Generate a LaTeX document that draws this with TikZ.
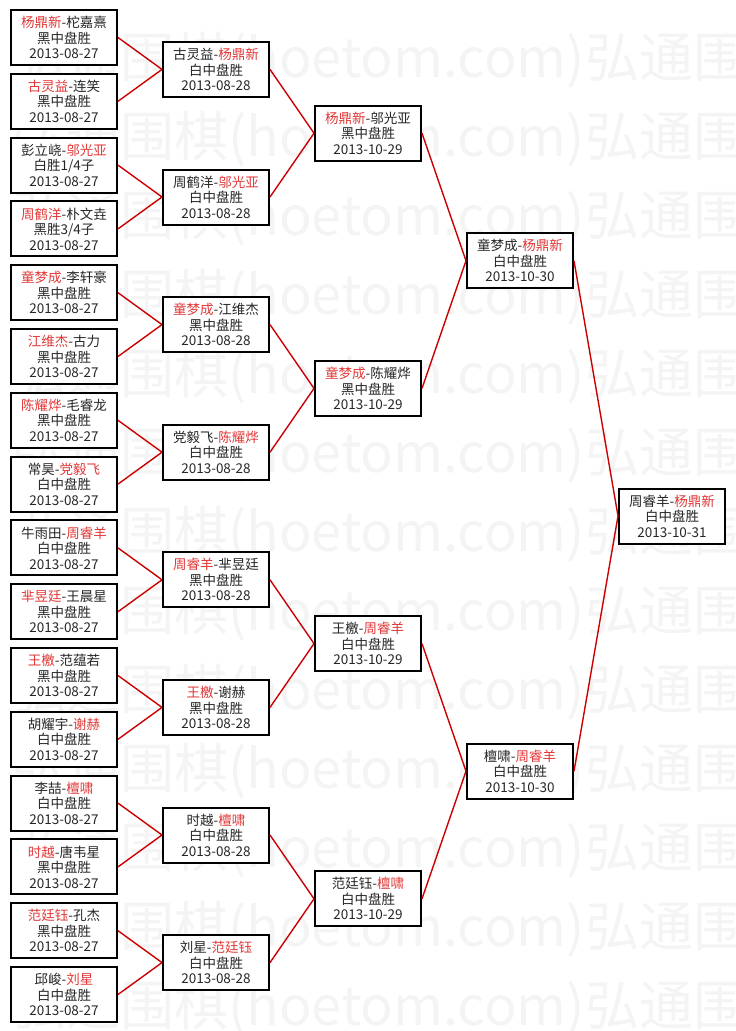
\documentclass[tikz,border=0pt]{standalone}
\usepackage{fontspec}
\setmainfont{Noto Sans CJK SC}
\usepackage{xcolor}
\usepackage{tikz}
\usetikzlibrary{positioning}

\definecolor{winred}{RGB}{226,56,56}
\definecolor{linkred}{RGB}{204,0,0}
\definecolor{inkgray}{RGB}{38,38,38}
\definecolor{markgray}{RGB}{244,244,244}
\newcommand{\win}[1]{\textcolor{winred}{#1}}

\begin{document}
\begin{tikzpicture}[x=1pt,y=-1pt,
    game/.style={draw=black,line width=2pt,fill=white,text=inkgray,align=center,
        minimum width=106pt,minimum height=55pt,inner sep=0pt,
        font=\fontsize{13.5}{15.5}\selectfont},
    link/.style={draw=linkred,line width=1.4pt},
    watermark/.style={text=markgray,anchor=west,inner sep=0pt,font=\fontsize{54}{54}\selectfont}]
    \useasboundingbox (0,0) rectangle (736,1031);

    \begin{scope}
    \clip (0,0) rectangle (736,1031);
    \foreach \y in {60,139,218,297,376,455,534,613,692,771,850,929,1008}
        \node[watermark] at (12,\y) {弘通围棋(hoetom.com)弘通围棋(hoetom.com)};
    \end{scope}

    \node[game] (a1) at (64,37.5) {\win{杨鼎新}-柁嘉熹\\黑中盘胜\\2013-08-27};
    \node[game] (a2) at (64,101.3) {\win{古灵益}-连笑\\黑中盘胜\\2013-08-27};
    \node[game] (a3) at (64,165.1) {彭立峣-\win{邬光亚}\\白胜1/4子\\2013-08-27};
    \node[game] (a4) at (64,228.9) {\win{周鹤洋}-朴文垚\\黑胜3/4子\\2013-08-27};
    \node[game] (a5) at (64,292.7) {\win{童梦成}-李轩豪\\黑中盘胜\\2013-08-27};
    \node[game] (a6) at (64,356.5) {\win{江维杰}-古力\\黑中盘胜\\2013-08-27};
    \node[game] (a7) at (64,420.3) {\win{陈耀烨}-毛睿龙\\黑中盘胜\\2013-08-27};
    \node[game] (a8) at (64,484.1) {常昊-\win{党毅飞}\\白中盘胜\\2013-08-27};
    \node[game] (a9) at (64,547.9) {牛雨田-\win{周睿羊}\\白中盘胜\\2013-08-27};
    \node[game] (a10) at (64,611.7) {\win{芈昱廷}-王晨星\\黑中盘胜\\2013-08-27};
    \node[game] (a11) at (64,675.5) {\win{王檄}-范蕴若\\黑中盘胜\\2013-08-27};
    \node[game] (a12) at (64,739.3) {胡耀宇-\win{谢赫}\\白中盘胜\\2013-08-27};
    \node[game] (a13) at (64,803.1) {李喆-\win{檀啸}\\白中盘胜\\2013-08-27};
    \node[game] (a14) at (64,866.9) {\win{时越}-唐韦星\\黑中盘胜\\2013-08-27};
    \node[game] (a15) at (64,930.7) {\win{范廷钰}-孔杰\\黑中盘胜\\2013-08-27};
    \node[game] (a16) at (64,994.5) {邱峻-\win{刘星}\\白中盘胜\\2013-08-27};

    \node[game] (b1) at (216,69.4) {古灵益-\win{杨鼎新}\\白中盘胜\\2013-08-28};
    \node[game] (b2) at (216,197.0) {周鹤洋-\win{邬光亚}\\白中盘胜\\2013-08-28};
    \node[game] (b3) at (216,324.6) {\win{童梦成}-江维杰\\黑中盘胜\\2013-08-28};
    \node[game] (b4) at (216,452.2) {党毅飞-\win{陈耀烨}\\白中盘胜\\2013-08-28};
    \node[game] (b5) at (216,579.8) {\win{周睿羊}-芈昱廷\\黑中盘胜\\2013-08-28};
    \node[game] (b6) at (216,707.4) {\win{王檄}-谢赫\\黑中盘胜\\2013-08-28};
    \node[game] (b7) at (216,835.0) {时越-\win{檀啸}\\白中盘胜\\2013-08-28};
    \node[game] (b8) at (216,962.6) {刘星-\win{范廷钰}\\白中盘胜\\2013-08-28};

    \node[game] (c1) at (368,133.2) {\win{杨鼎新}-邬光亚\\黑中盘胜\\2013-10-29};
    \node[game] (c2) at (368,388.4) {\win{童梦成}-陈耀烨\\黑中盘胜\\2013-10-29};
    \node[game] (c3) at (368,643.6) {王檄-\win{周睿羊}\\白中盘胜\\2013-10-29};
    \node[game] (c4) at (368,898.8) {范廷钰-\win{檀啸}\\白中盘胜\\2013-10-29};

    \node[game] (d1) at (520,260.8) {童梦成-\win{杨鼎新}\\白中盘胜\\2013-10-30};
    \node[game] (d2) at (520,771.2) {檀啸-\win{周睿羊}\\白中盘胜\\2013-10-30};

    \node[game] (e1) at (672,516.0) {周睿羊-\win{杨鼎新}\\白中盘胜\\2013-10-31};

    \draw[link] (a1.east) -- (b1.west) (a2.east) -- (b1.west);
    \draw[link] (a3.east) -- (b2.west) (a4.east) -- (b2.west);
    \draw[link] (a5.east) -- (b3.west) (a6.east) -- (b3.west);
    \draw[link] (a7.east) -- (b4.west) (a8.east) -- (b4.west);
    \draw[link] (a9.east) -- (b5.west) (a10.east) -- (b5.west);
    \draw[link] (a11.east) -- (b6.west) (a12.east) -- (b6.west);
    \draw[link] (a13.east) -- (b7.west) (a14.east) -- (b7.west);
    \draw[link] (a15.east) -- (b8.west) (a16.east) -- (b8.west);

    \draw[link] (b1.east) -- (c1.west) (b2.east) -- (c1.west);
    \draw[link] (b3.east) -- (c2.west) (b4.east) -- (c2.west);
    \draw[link] (b5.east) -- (c3.west) (b6.east) -- (c3.west);
    \draw[link] (b7.east) -- (c4.west) (b8.east) -- (c4.west);

    \draw[link] (c1.east) -- (d1.west) (c2.east) -- (d1.west);
    \draw[link] (c3.east) -- (d2.west) (c4.east) -- (d2.west);

    \draw[link] (d1.east) -- (e1.west) (d2.east) -- (e1.west);
\end{tikzpicture}
\end{document}
